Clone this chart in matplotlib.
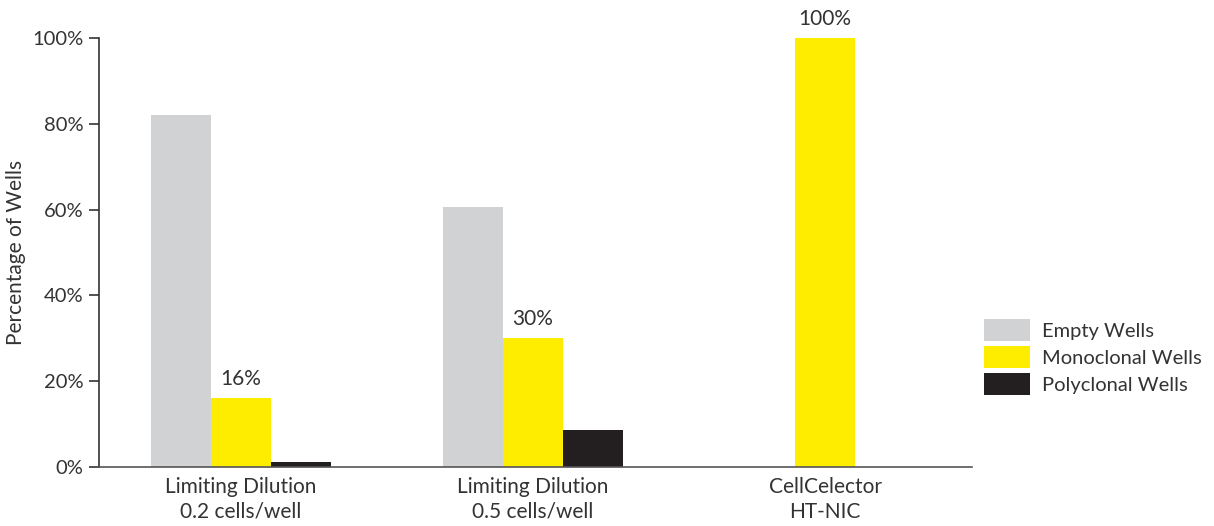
import matplotlib
matplotlib.use("Agg")
import matplotlib.pyplot as plt
import numpy as np
from matplotlib.patches import Patch

categories = ["Limiting Dilution\n0.2 cells/well", "Limiting Dilution\n0.5 cells/well", "CellCelector\nHT-NIC"]
series_names = ["Empty Wells", "Monoclonal Wells", "Polyclonal Wells"]
empty = [82, 60.6, 0]
monoclonal = [16, 30, 100]
polyclonal = [1.2, 8.6, 0]
mono_labels = ["16%", "30%", "100%"]
yticks = [0, 20, 40, 60, 80, 100]
ytick_labels = ["0%", "20%", "40%", "60%", "80%", "100%"]

colors = ["#d1d2d4", "#ffed00", "#231f20"]
txt = "#333333"
plt.rcParams['font.family'] = ['Lato', 'DejaVu Sans']

fig = plt.figure(figsize=(12.14, 5.26), dpi=100)
ax = fig.add_axes([99/1214, 1-467/526, (972-99)/1214, (467-38)/526])

x = np.arange(len(categories))
w = 0.206
for i, (vals, c) in enumerate(zip([empty, monoclonal, polyclonal], colors)):
    ax.bar(x + (i-1)*w, vals, width=w, color=c, linewidth=0, zorder=2)

for xi, v, lab in zip(x, monoclonal, mono_labels):
    ax.text(xi, v + 2.2, lab, ha="center", va="bottom", fontsize=15, color=txt, clip_on=False)

ax.set_xlim(-0.486, 2.503)
ax.set_ylim(0, 100)
ax.set_yticks(yticks)
ax.set_yticklabels(ytick_labels, fontsize=14.5, color=txt)
ax.set_xticks(x)
ax.set_xticklabels(categories, fontsize=15, color=txt, linespacing=1.3)
ax.tick_params(axis="x", length=0, pad=7)
ax.tick_params(axis="y", length=7, width=1.2, color=txt, pad=4, direction="out")
for s in ["top", "right"]:
    ax.spines[s].set_visible(False)
ax.spines["left"].set_color(txt)
ax.spines["left"].set_linewidth(1.2)
ax.spines["bottom"].set_color("#555555")
ax.spines["bottom"].set_linewidth(1.2)
ax.set_ylabel("Percentage of Wells", fontsize=15, color=txt, labelpad=5)

handles = [Patch(facecolor=c, edgecolor="none", label=n) for c, n in zip(colors, series_names)]
fig.legend(handles=handles, loc="center left", bbox_to_anchor=(966/1214, 1-357/526),
           frameon=False, fontsize=14.5, handlelength=2.3, handleheight=1.3,
           handletextpad=0.55, labelspacing=0.25, labelcolor=txt)

fig.savefig("out.png", dpi=100)
